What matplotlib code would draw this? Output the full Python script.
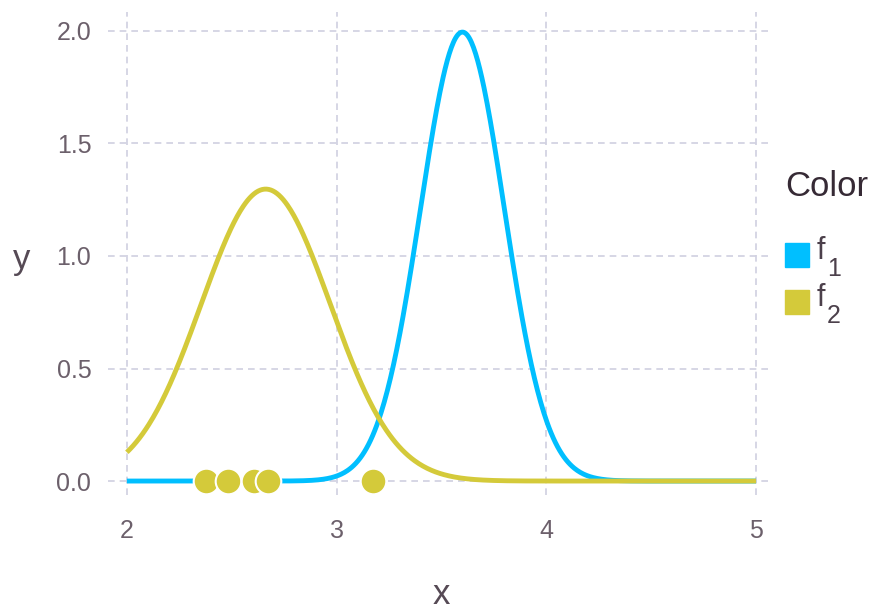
import numpy as np
import matplotlib
matplotlib.use("Agg")
import matplotlib.pyplot as plt
from matplotlib.patches import Rectangle

# sample points (y = 0)
points_x = [2.376, 2.483, 2.605, 2.673, 3.173]
points_y = [0.0, 0.0, 0.0, 0.0, 0.0]

# f1: normal density read from the peak (mean 3.6, height 2.0)
f1_mu, f1_sd = 3.6, 0.2
# f2: normal density fitted to the points (mean, sample sd)
f2_mu = float(np.mean(points_x))
f2_sd = float(np.std(points_x, ddof=1))

x_range = (2.0, 5.0)
xticks = [2, 3, 4, 5]
yticks = [0.0, 0.5, 1.0, 1.5, 2.0]

labels = ["f", "f"]
subs = ["1", "2"]
colors = ["#00BFFF", "#D4CA3A"]


def normal_pdf(x, mu, sd):
    return np.exp(-0.5 * ((x - mu) / sd) ** 2) / (sd * np.sqrt(2 * np.pi))


plt.rcParams["font.family"] = ["Liberation Sans", "DejaVu Sans"]

fig = plt.figure(figsize=(8.72, 6.12), dpi=100)
ax = fig.add_axes([108 / 872, 1 - 495 / 612, (772 - 108) / 872, (495 - 12) / 612])

xs = np.linspace(x_range[0], x_range[1], 600)
ax.plot(xs, normal_pdf(xs, f1_mu, f1_sd), color=colors[0], lw=3.5,
        solid_capstyle="butt", zorder=3)
ax.plot(xs, normal_pdf(xs, f2_mu, f2_sd), color=colors[1], lw=3.5,
        solid_capstyle="butt", zorder=3)
ax.scatter(points_x, points_y, s=340, color=colors[1], edgecolor="white",
           linewidth=1.5, zorder=4)

ax.set_xlim(1.91, 5.076)
ax.set_ylim(-0.062, 2.084)
ax.set_xticks(xticks)
ax.set_yticks(yticks)
ax.set_xticklabels([str(t) for t in xticks])
ax.set_yticklabels([f"{t:.1f}" for t in yticks])
ax.grid(True, color="#D0D0E0", linestyle=(0, (4, 3)), linewidth=1.2, zorder=0)
for s in ax.spines.values():
    s.set_visible(False)
ax.tick_params(length=0, labelsize=18, colors="#6c606b")
ax.tick_params(axis="x", pad=17)
ax.tick_params(axis="y", pad=12)

fig.text(22 / 872, 1 - 260 / 612, "y", fontsize=25, color="#564a55",
         ha="center", va="center")
fig.text(441 / 872, 1 - 594 / 612, "x", fontsize=25, color="#564a55",
         ha="center", va="center")

# legend
fig.text(785 / 872, 1 - 187 / 612, "Color", fontsize=25, color="#362a35",
         ha="left", va="center")
for i, (lab, sub, c) in enumerate(zip(labels, subs, colors)):
    yc = 255 + i * 47
    fig.patches.append(Rectangle((785 / 872, 1 - (yc + 12) / 612), 24 / 872, 24 / 612,
                                 transform=fig.transFigure, color=c))
    fig.text(817 / 872, 1 - (yc - 4) / 612, lab, fontsize=22, color="#4c404b",
             ha="left", va="center")
    fig.text(827 / 872, 1 - (yc + 14) / 612, sub, fontsize=18, color="#4c404b",
             ha="left", va="center")

fig.savefig("out.png", dpi=100)
